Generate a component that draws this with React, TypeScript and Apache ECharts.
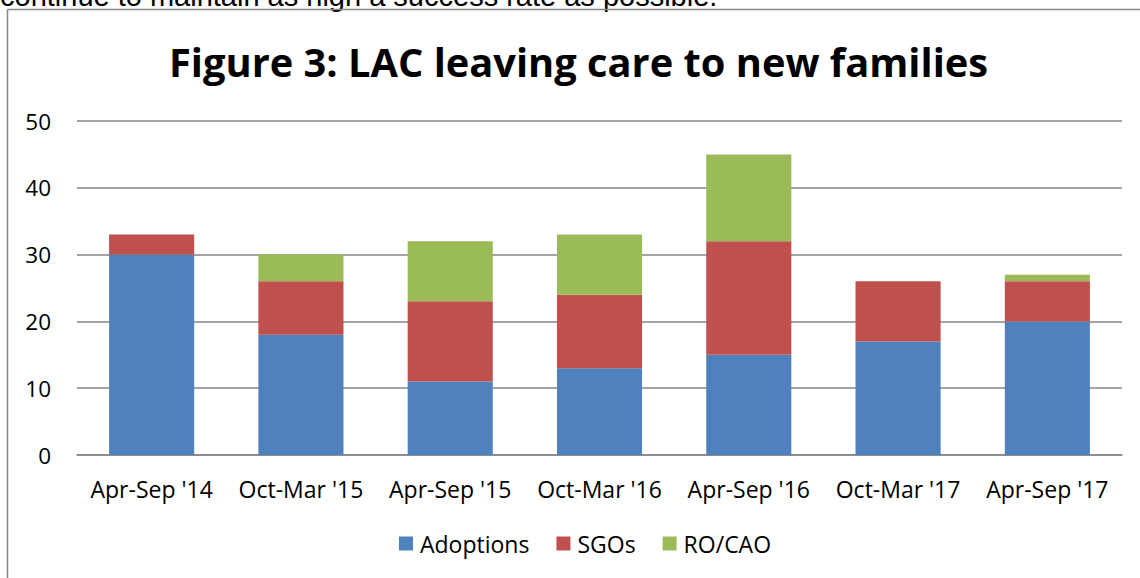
import React, { useEffect, useRef } from "react";
import * as echarts from "echarts";

const categories = ["Apr-Sep '14", "Oct-Mar '15", "Apr-Sep '15", "Oct-Mar '16", "Apr-Sep '16", "Oct-Mar '17", "Apr-Sep '17"];
const adoptions = [30, 18, 11, 13, 15, 17, 20];
const sgos = [3, 8, 12, 11, 17, 9, 6];
const roCao = [0, 4, 9, 9, 13, 0, 1];
const yTicks = { min: 0, max: 50, interval: 10 };

export default function App() {
  const ref = useRef<HTMLDivElement>(null);
  useEffect(() => {
    if (!ref.current) return;
    const chart = echarts.init(ref.current, null, { renderer: "svg" });
    const font = "'Open Sans', 'Noto Sans', sans-serif";
    chart.setOption({
      animation: false,
      backgroundColor: "#ffffff",
      textStyle: { fontFamily: font },
      title: {
        text: "Figure 3: LAC leaving care to new families",
        left: 164,
        top: 36,
        textStyle: { fontFamily: font, fontWeight: "bold", fontSize: 39.8, color: "#000" },
      },
      graphic: [
        {
          type: "text",
          left: 0,
          top: -19,
          style: { text: "continue to maintain as high a success rate as possible.", font: "29px 'Liberation Sans', sans-serif", fill: "#000" },
        },
        { type: "line", shape: { x1: 7.5, y1: 9.5, x2: 1140, y2: 9.5 }, style: { stroke: "#888", lineWidth: 1.5 } },
        { type: "line", shape: { x1: 7.5, y1: 9.5, x2: 7.5, y2: 578 }, style: { stroke: "#888", lineWidth: 1.5 } },
      ],
      legend: {
        bottom: 18,
        left: 394,
        itemWidth: 14,
        itemHeight: 14,
        itemGap: 27,
        icon: "rect",
        textStyle: { fontFamily: font, fontSize: 23, color: "#000", padding: [0, 0, 0, 2] },
        data: ["Adoptions", "SGOs", "RO/CAO"],
      },
      grid: { left: 77, right: 18, top: 121, bottom: 123 },
      xAxis: {
        type: "category",
        data: categories,
        axisLine: { lineStyle: { color: "#868686", width: 1.5 } },
        axisTick: { show: false },
        axisLabel: { fontFamily: font, fontSize: 23, color: "#000", margin: 22, interval: 0 },
      },
      yAxis: {
        type: "value",
        min: yTicks.min,
        max: yTicks.max,
        interval: yTicks.interval,
        axisLine: { show: false },
        axisTick: { show: false },
        splitLine: { lineStyle: { color: "#868686", width: 1.5 } },
        axisLabel: { fontFamily: font, fontSize: 22.5, color: "#000", margin: 26 },
      },
      series: [
        { name: "Adoptions", type: "bar", stack: "t", data: adoptions, barWidth: "57%", itemStyle: { color: "#4F81BD" } },
        { name: "SGOs", type: "bar", stack: "t", data: sgos, itemStyle: { color: "#C0504D" } },
        { name: "RO/CAO", type: "bar", stack: "t", data: roCao, itemStyle: { color: "#9BBB59" } },
      ],
    });
    return () => chart.dispose();
  }, []);
  return <div ref={ref} style={{ position: "absolute", left: 0, top: 0, width: 1140, height: 578 }} />;
}
